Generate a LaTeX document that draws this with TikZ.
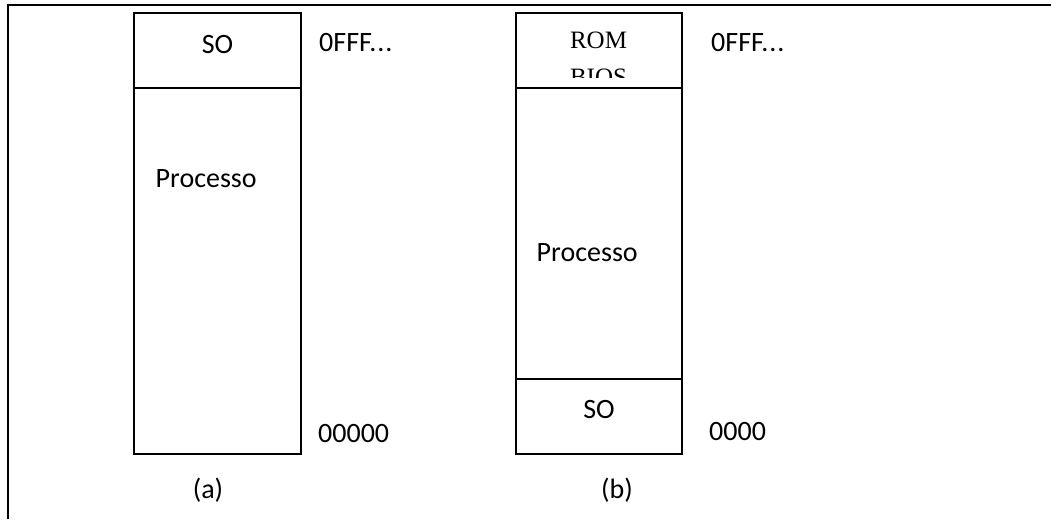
\documentclass[tikz,border=0pt]{standalone}
\usepackage{fontspec}
\setmainfont{Carlito}
\newfontfamily\romfont{Liberation Serif}
\usetikzlibrary{positioning}
\tikzset{
  memCell/.style={draw=black, line width=1.6pt, inner sep=0pt, outer sep=0pt,
                  minimum width=#1},
  memText/.style={inner sep=0pt, font=\fontsize{28}{34}\selectfont},
  romText/.style={inner sep=0pt, font=\romfont\fontsize{25}{30}\selectfont},
  frameLine/.style={draw=black, line width=2pt}
}

\begin{document}
\begin{tikzpicture}[x=1pt, y=-1pt, node distance=0pt]
  \useasboundingbox (0,0) rectangle (1051,519);
  % outer frame (top and left edge only)
  \draw[frameLine] (8,519) -- (8,5.5) -- (1051,5.5);

  % (a) memory layout
  \node[memCell=167pt, minimum height=75pt] (soA) at (217.5,50.5) {};
  \node[memCell=167pt, minimum height=366pt, below=of soA] (procA) {};
  \node[memText, anchor=base] (soAtxt) at (217.5,53) {SO};
  \node[memText, anchor=base west] (procAtxt) at (155.5,187) {Processo};
  \node[memText, anchor=base west] (topA) at (319,52) {0FFF.\kern1pt.\kern1pt.};
  \node[memText, anchor=base west] (botA) at (318,442) {00000};
  \node[memText, anchor=base] (capA) at (208,498) {(a)};

  % (b) memory layout
  \node[memCell=166pt, minimum height=75pt] (romB) at (599,50.5) {};
  \node[memCell=166pt, minimum height=291pt, below=of romB] (procB) {};
  \node[memCell=166pt, minimum height=75pt, below=of procB] (soB) {};
  \node[romText, anchor=base] (romBtxt) at (598.5,48.5) {ROM};
  \begin{scope}
    \clip (516,13) rectangle (682,77);
    \node[romText, anchor=base] (biosBtxt) at (598.5,85) {BIOS};
  \end{scope}
  \node[memText, anchor=base west] (procBtxt) at (536.5,261.5) {Processo};
  \node[memText, anchor=base] (soBtxt) at (599,418) {SO};
  \node[memText, anchor=base west] (topB) at (711,52) {0FFF.\kern1pt.\kern1pt.};
  \node[memText, anchor=base west] (botB) at (709,440) {0000};
  \node[memText, anchor=base] (capB) at (617,498) {(b)};
\end{tikzpicture}
\end{document}
